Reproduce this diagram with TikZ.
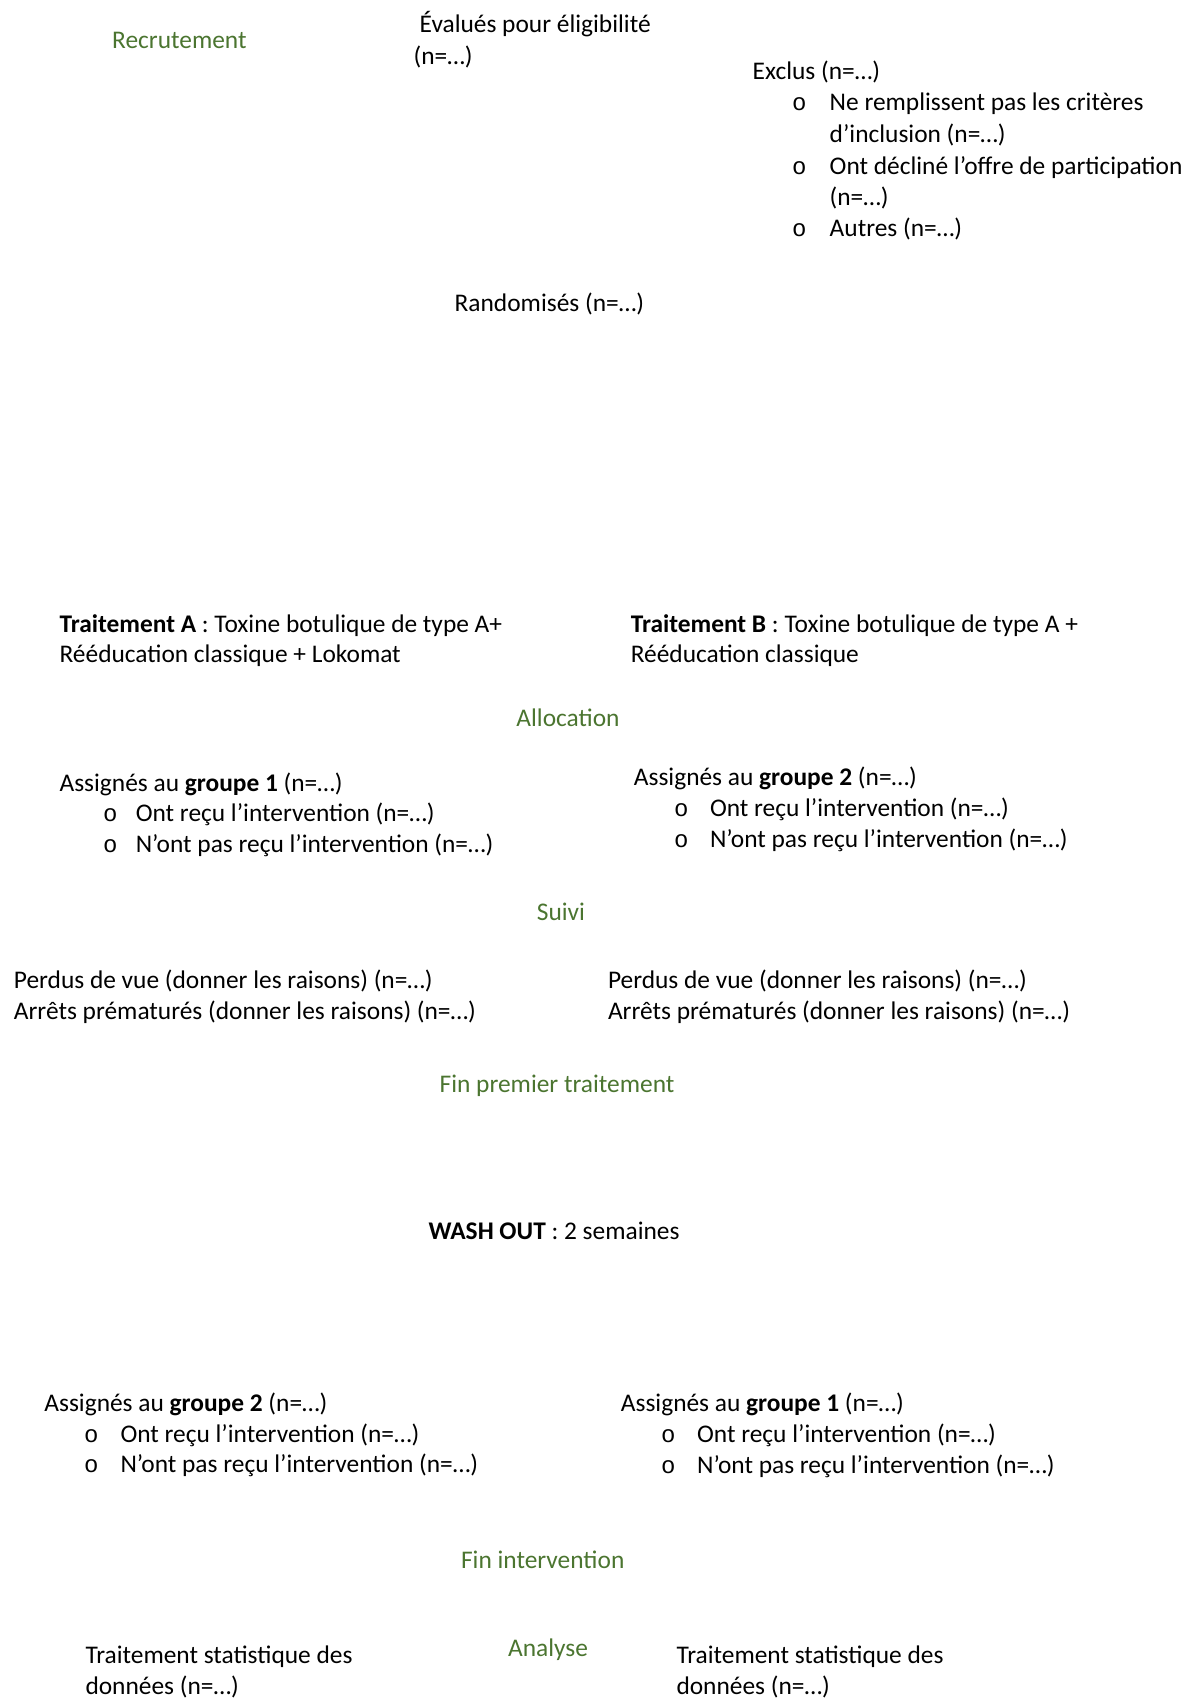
\documentclass[tikz,border=0pt]{standalone}
\usepackage{fontspec}
\setmainfont{Carlito}
\newfontfamily\bulletfont{Liberation Mono}
\definecolor{labgreen}{HTML}{4B7530}
\begin{document}
\begin{tikzpicture}[x=1pt,y=-1pt,
  txt/.style={anchor=base west, inner sep=0pt, font=\fontsize{25.4}{30.5}\selectfont},
  lab/.style={anchor=base, inner sep=0pt, text=labgreen, font=\fontsize{25.4}{30.5}\selectfont},
  bul/.style={anchor=base west, inner sep=0pt, font=\bulletfont\fontsize{24}{30.5}\selectfont}]
\useasboundingbox (0,0) rectangle (1194,1700);
% Recrutement
\node[lab, anchor=base west] (recr) at (112,48.5) {Recrutement};
\node[txt] (eval1) at (419.5,32.5) {Évalués pour éligibilité};
\node[txt] (eval2) at (413.5,64) {(n=…)};
\node[txt] (excl) at (752.5,79.5) {Exclus (n=…)};
\node[bul] (eb1) at (792,110.8) {o};
\node[txt] (e1a) at (829.5,110.8) {Ne remplissent pas les critères};
\node[txt] (e1b) at (829.5,142.2) {d’inclusion (n=…)};
\node[bul] (eb2) at (792,174) {o};
\node[txt] (e2a) at (829.5,174) {Ont décliné l’offre de participation};
\node[txt] (e2b) at (829.5,205.4) {(n=…)};
\node[bul] (eb3) at (792,236) {o};
\node[txt] (e3) at (829.5,236) {Autres (n=…)};
\node[txt] (rand) at (454.5,311.8) {Randomisés (n=…)};
% Traitements
\node[txt] (ta1) at (59.4,632.1) {\textbf{Traitement A} : Toxine botulique de type A+};
\node[txt] (ta2) at (59.4,662.5) {Rééducation classique + Lokomat};
\node[txt] (tb1) at (630.6,632.1) {\textbf{Traitement B} : Toxine botulique de type A +};
\node[txt] (tb2) at (630.6,662.5) {Rééducation classique};
\node[lab] (alloc) at (568,726) {Allocation};
% Groupes allocation
\node[txt] (g1) at (59.4,791.8) {Assignés au \textbf{groupe 1} (n=…)};
\node[bul] (g1b1) at (102.8,821.4) {o};
\node[txt] (g1t1) at (135.6,821.4) {Ont reçu l’intervention (n=…)};
\node[bul] (g1b2) at (102.8,852.5) {o};
\node[txt] (g1t2) at (135.6,852.5) {N’ont pas reçu l’intervention (n=…)};
\node[txt] (g2) at (633.7,785.7) {Assignés au \textbf{groupe 2} (n=…)};
\node[bul] (g2b1) at (674,816.1) {o};
\node[txt] (g2t1) at (709.8,816.1) {Ont reçu l’intervention (n=…)};
\node[bul] (g2b2) at (674,847.5) {o};
\node[txt] (g2t2) at (709.8,847.5) {N’ont pas reçu l’intervention (n=…)};
\node[lab] (suivi) at (561,920.4) {Suivi};
\node[txt] (p1a) at (13.7,988.2) {Perdus de vue (donner les raisons) (n=…)};
\node[txt] (p1b) at (13.7,1019.5) {Arrêts prématurés (donner les raisons) (n=…)};
\node[txt] (p2a) at (607.8,988.2) {Perdus de vue (donner les raisons) (n=…)};
\node[txt] (p2b) at (607.8,1019.5) {Arrêts prématurés (donner les raisons) (n=…)};
\node[lab] (fin1) at (557,1092.1) {Fin premier traitement};
\node[txt, anchor=base] (wash) at (554,1239.5) {\textbf{WASH OUT} : 2 semaines};
% Second period
\node[txt] (h2) at (44.2,1411.1) {Assignés au \textbf{groupe 2} (n=…)};
\node[bul] (h2b1) at (83.8,1442.1) {o};
\node[txt] (h2t1) at (120.3,1442.1) {Ont reçu l’intervention (n=…)};
\node[bul] (h2b2) at (83.8,1472.5) {o};
\node[txt] (h2t2) at (120.3,1472.5) {N’ont pas reçu l’intervention (n=…)};
\node[txt] (h1) at (620.7,1411.5) {Assignés au \textbf{groupe 1} (n=…)};
\node[bul] (h1b1) at (661,1442.6) {o};
\node[txt] (h1t1) at (696.9,1442.6) {Ont reçu l’intervention (n=…)};
\node[bul] (h1b2) at (661,1473.2) {o};
\node[txt] (h1t2) at (696.9,1473.2) {N’ont pas reçu l’intervention (n=…)};
\node[lab] (fin2) at (542.7,1568.9) {Fin intervention};
\node[lab] (anal) at (548,1656.5) {Analyse};
\node[txt] (s1a) at (85.3,1663.5) {Traitement statistique des};
\node[txt] (s1b) at (85.3,1694) {données (n=…)};
\node[txt] (s2a) at (676.3,1663.5) {Traitement statistique des};
\node[txt] (s2b) at (676.3,1694) {données (n=…)};
\end{tikzpicture}
\end{document}
